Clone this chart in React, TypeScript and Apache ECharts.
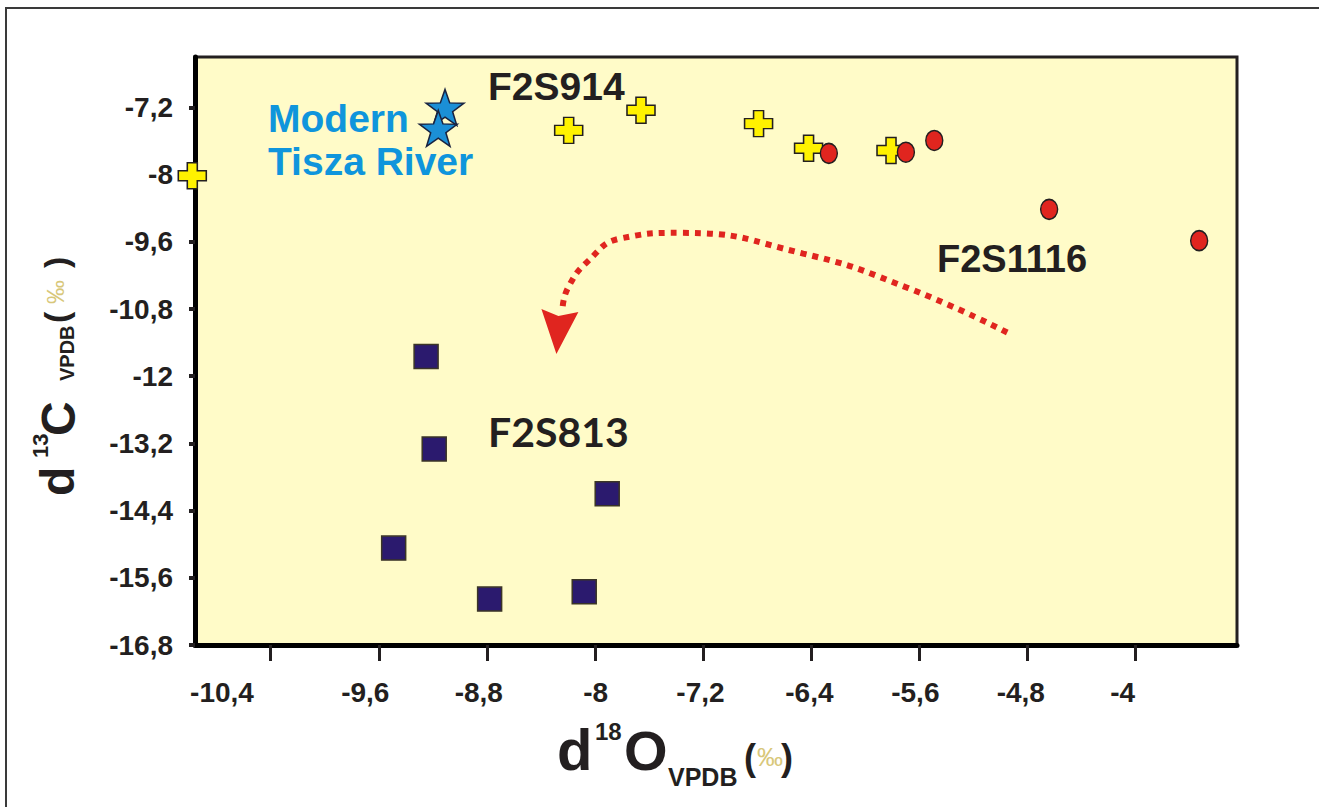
import React, { useEffect, useRef } from "react";
import * as echarts from "echarts";

// ---- data ----
const xTicks = [-10.4, -9.6, -8.8, -8, -7.2, -6.4, -5.6, -4.8, -4];
// where each x tick label is centred in the reference (they sit slightly off their ticks)
const xLabelPos = [-10.76, -9.7, -8.86, -7.995, -7.22, -6.414, -5.63, -4.85, -4.096];
const xTickLabels = ["-10,4", "-9,6", "-8,8", "-8", "-7,2", "-6,4", "-5,6", "-4,8", "-4"];
const yTicks = [-16.8, -15.6, -14.4, -13.2, -12, -10.8, -9.6, -8.4, -7.2];
const yTickLabels = ["-16,8", "-15,6", "-14,4", "-13,2", "-12", "-10,8", "-9,6", "-8", "-7,2"];

const f2s914 = [
  [-10.98, -8.42],
  [-8.195, -7.61],
  [-7.66, -7.25],
  [-6.79, -7.49],
  [-6.42, -7.93],
  [-5.81, -7.97],
];
const f2s1116 = [
  [-6.27, -8.02],
  [-5.7, -8.0],
  [-5.49, -7.79],
  [-4.64, -9.02],
  [-3.53, -9.58],
];
const f2s813 = [
  [-9.25, -11.65],
  [-9.19, -13.3],
  [-7.91, -14.1],
  [-9.49, -15.07],
  [-8.78, -15.98],
  [-8.08, -15.85],
];
const tisza = [
  [-9.11, -7.2],
  [-9.16, -7.575],
];
const arrowPath = [
  [-4.95, -11.22],
  [-5.69, -10.42],
  [-6.46, -9.81],
  [-7.37, -9.44],
  [-7.81, -9.54],
  [-8.05, -9.94],
  [-8.2, -10.42],
  [-8.24, -10.78],
];
const arrowHead = [[-8.26, -11.2]];

const FONT = "'Liberation Sans', Arial, sans-serif";
const INK = "#231f20";
const PERMIL = "#d8c77a";

const crossPath = "path://M9,0 H19 V8 H28 V18 H19 V26 H9 V18 H0 V8 H9 Z";
const ellipsePath = "path://M0,10 A8.5,10 0 1,0 17,10 A8.5,10 0 1,0 0,10 Z";
const starPath =
  "path://M50,0 L61.76,33.82 L97.55,34.55 L69.02,56.18 L79.39,90.45 L50,70 L20.61,90.45 L30.98,56.18 L2.45,34.55 L38.24,33.82 Z";
const headPath = "path://M0,0 L17,7 L37,3 L15,45 Z";

function txt(text: string, x: number, y: number, size: number, color = INK, weight: any = "bold", family = FONT, rotation = 0) {
  return {
    type: "text",
    x,
    y,
    rotation,
    z: 100,
    style: {
      text,
      fill: color,
      font: `${weight} ${size}px ${family}`,
      align: "left",
      verticalAlign: "middle",
    },
  };
}

const lookup = (vals: number[], labels: string[]) => (v: number) => {
  const i = vals.findIndex((t) => Math.abs(t - v) < 1e-6);
  return i >= 0 ? labels[i] : "";
};

export default function App() {
  const ref = useRef<HTMLDivElement>(null);
  useEffect(() => {
    if (!ref.current) return;
    const chart = echarts.init(ref.current, null, { renderer: "svg" });
    const R = Math.PI / 2;
    chart.setOption({
      animation: false,
      backgroundColor: "#ffffff",
      grid: {
        left: 195,
        top: 57,
        right: 82,
        bottom: 162,
        show: true,
        backgroundColor: "#fffbc8",
        borderColor: INK,
        borderWidth: 3,
      },
      xAxis: {
        type: "value",
        min: -10.96,
        max: -3.25,
        splitLine: { show: false },
        axisLine: { onZero: false, lineStyle: { color: "#000", width: 5 } },
        axisTick: { customValues: xTicks, length: 16, lineStyle: { color: INK, width: 3 } },
        axisLabel: {
          customValues: xLabelPos,
          margin: 33,
          color: INK,
          fontFamily: FONT,
          fontWeight: "bold",
          fontSize: 28,
          formatter: lookup(xLabelPos, xTickLabels),
        },
      },
      yAxis: {
        type: "value",
        min: -16.8,
        max: -6.3,
        splitLine: { show: false },
        axisLine: { onZero: false, lineStyle: { color: "#000", width: 5 } },
        axisTick: { customValues: yTicks, length: 6, lineStyle: { color: INK, width: 4 } },
        axisLabel: {
          customValues: yTicks,
          margin: 22,
          color: INK,
          fontFamily: FONT,
          fontWeight: "bold",
          fontSize: 28,
          formatter: lookup(yTicks, yTickLabels),
        },
      },
      series: [
        {
          type: "line",
          data: arrowPath,
          smooth: 0.5,
          symbol: "none",
          clip: false,
          lineStyle: { color: "#e0251f", width: 6, type: [6, 6], cap: "butt" },
          z: 3,
        },
        {
          type: "scatter",
          data: arrowHead,
          symbol: headPath,
          symbolSize: [37, 45],
          itemStyle: { color: "#e0251f", opacity: 1 },
          z: 3,
        },
        {
          type: "scatter",
          name: "F2S914",
          data: f2s914,
          symbol: crossPath,
          symbolSize: [28, 26],
          clip: false,
          itemStyle: { color: "#fff200", borderColor: INK, borderWidth: 1.5, opacity: 1 },
          z: 4,
        },
        {
          type: "scatter",
          name: "F2S1116",
          data: f2s1116,
          symbol: ellipsePath,
          symbolSize: [17, 20],
          clip: false,
          itemStyle: { color: "#e0251f", borderColor: INK, borderWidth: 1.5, opacity: 1 },
          z: 5,
        },
        {
          type: "scatter",
          name: "F2S813",
          data: f2s813,
          symbol: "rect",
          symbolSize: 24,
          itemStyle: { color: "#2b1a6e", borderColor: "#3b3526", borderWidth: 1.5, opacity: 1 },
          z: 5,
        },
        {
          type: "scatter",
          name: "Modern Tisza River",
          data: tisza,
          symbol: starPath,
          symbolSize: [38, 36],
          itemStyle: { color: "#1b8fd6", borderColor: "#1a2340", borderWidth: 1.5, opacity: 1 },
          z: 6,
        },
      ],
      graphic: [
        {
          type: "rect",
          z: 0,
          shape: { x: 6, y: 8, width: 1330, height: 820 },
          style: { fill: "none", stroke: "#3a3a3a", lineWidth: 2 },
        },
        // series labels
        txt("F2S914", 488, 86, 39),
        txt("Modern", 268, 118, 39, "#0f95dc"),
        txt("Tisza River", 268, 161, 39, "#0f95dc"),
        txt("F2S1116", 937, 259, 38),
        txt("F2S813", 488, 431, 41, INK, "bold", "Lato, 'Open Sans', sans-serif"),
        // x axis title
        txt("d", 557, 749, 58),
        txt("18", 595, 731, 24),
        txt("O", 624, 750, 56),
        txt("VPDB", 668, 777, 25),
        txt("(", 744, 757, 36),
        txt("\u2030", 757, 757, 26, PERMIL, "normal"),
        txt(")", 781, 757, 36),
        // y axis title (rotated)
        txt("d", 57, 496, 48, INK, "bold", FONT, R),
        txt("13", 40, 458, 22, INK, "bold", FONT, R),
        txt("C", 58, 436, 48, INK, "bold", FONT, R),
        txt("VPDB", 67, 381, 20, INK, "bold", FONT, R),
        txt("(", 56, 323, 34, INK, "bold", FONT, R),
        txt("\u2030", 55, 304, 24, PERMIL, "normal", FONT, R),
        txt(")", 56, 268, 34, INK, "bold", FONT, R),
      ],
    });
    return () => chart.dispose();
  }, []);
  return (
    <div
      ref={ref}
      style={{ position: "fixed", left: 0, top: 0, width: 1319, height: 807 }}
    />
  );
}
